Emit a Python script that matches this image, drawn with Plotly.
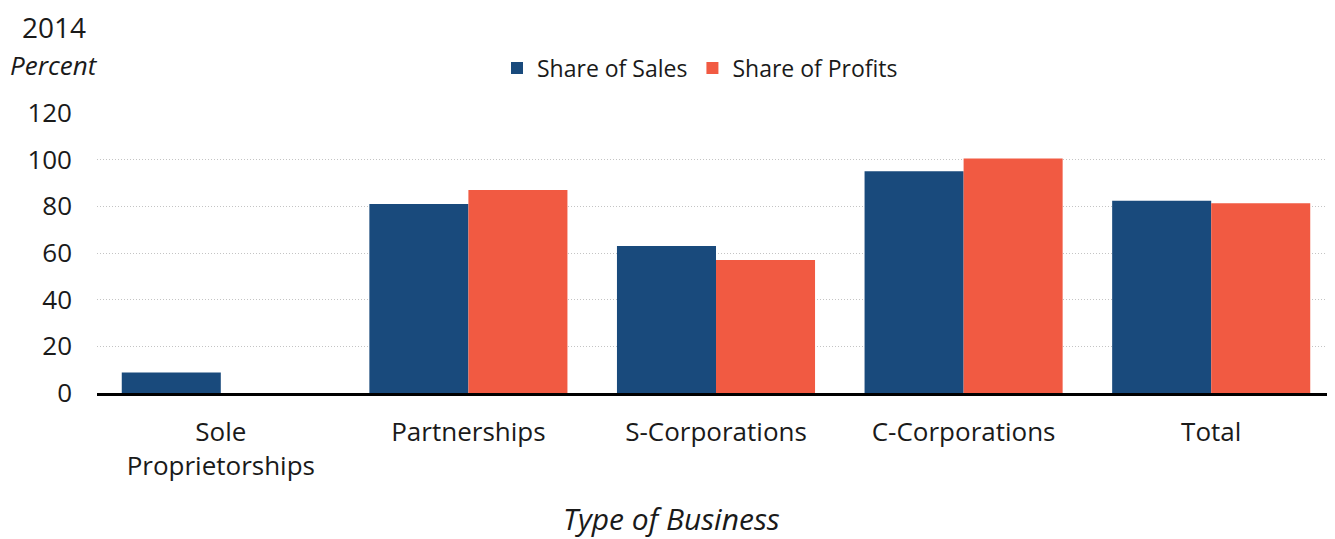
import plotly.graph_objects as go

categories = ["Sole<br>Proprietorships", "Partnerships", "S-Corporations", "C-Corporations", "Total"]
share_of_sales = [8.8, 81, 63, 95, 82.4]
share_of_profits = [0, 87, 57, 100.5, 81.3]
y_ticks = [0, 20, 40, 60, 80, 100, 120]

BLUE = "#194A7C"
RED = "#F15A42"
FONT = "Open Sans"
TXT = "#1a1a1a"

L, T, PW, PH = 89, 105, 1238, 280

def px(x):
    return (x - L) / PW

def py(y):
    return 1 + (T - y) / PH

fig = go.Figure()
fig.add_trace(go.Bar(name="Share of Sales", x=categories, y=share_of_sales,
                     marker=dict(color=BLUE, line=dict(width=0))))
fig.add_trace(go.Bar(name="Share of Profits", x=categories, y=share_of_profits,
                     marker=dict(color=RED, line=dict(width=0))))

fig.update_layout(
    width=1327, height=531,
    margin=dict(l=L, r=0, t=T, b=531 - T - PH),
    paper_bgcolor="white", plot_bgcolor="white",
    barmode="group", bargap=0.2, bargroupgap=0,
    font=dict(family=FONT, color=TXT, size=24),
    showlegend=True,
    legend=dict(orientation="h", x=px(489), xanchor="left", y=py(60), yanchor="middle",
                font=dict(size=23, family=FONT, color=TXT), bgcolor="rgba(0,0,0,0)",
                itemwidth=30, traceorder="normal"),
    xaxis=dict(showline=True, linecolor="black", linewidth=2.5, ticks="",
               tickfont=dict(size=26, family=FONT, color=TXT), showgrid=False,
               ticklabelstandoff=14),
    yaxis=dict(range=[0, 120], tickvals=y_ticks, showgrid=True, gridcolor="#C4C4C4",
               griddash="1px,2px", gridwidth=1.2, zeroline=False, showline=False,
               tickfont=dict(size=26, family=FONT, color=TXT), ticklabelstandoff=24),
)

fig.add_annotation(text="2014", xref="paper", yref="paper", x=px(13), y=py(19),
                   xanchor="left", yanchor="middle", showarrow=False, borderpad=0,
                   font=dict(size=28, family=FONT, color=TXT))
fig.add_annotation(text="<i>Percent</i>", xref="paper", yref="paper", x=px(1), y=py(57),
                   xanchor="left", yanchor="middle", showarrow=False, borderpad=0,
                   font=dict(size=26, family=FONT, color=TXT))
fig.add_annotation(text="<i>Type of Business</i>", xref="paper", yref="paper",
                   x=px(663), y=py(510),
                   xanchor="center", yanchor="middle", showarrow=False,
                   font=dict(size=30, family=FONT, color=TXT))

fig.write_html("out.html")
